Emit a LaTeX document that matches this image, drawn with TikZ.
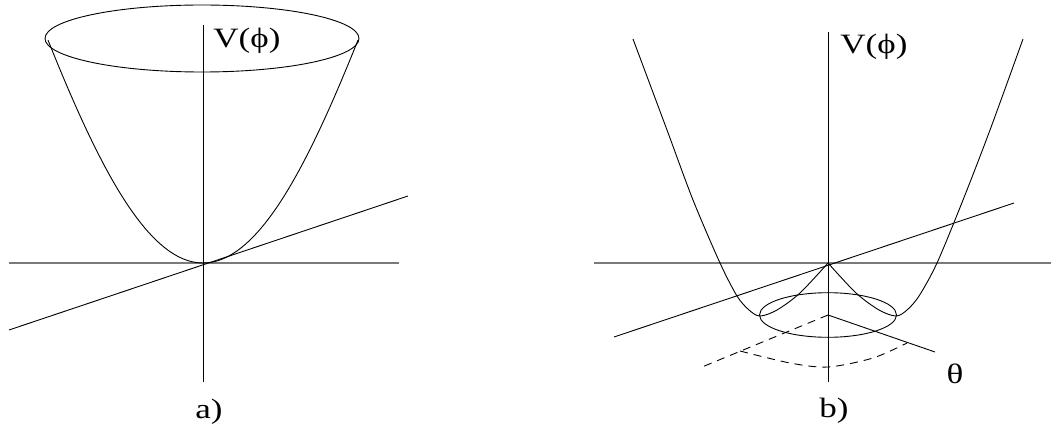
\documentclass[tikz,border=0pt]{standalone}
\usepackage{fontspec}
\setmainfont[FakeStretch=1.25]{Liberation Serif}
\usepackage{tikz}
\usetikzlibrary{positioning,calc}
\definecolor{axisgray}{HTML}{7A7A7A}

\begin{document}
\begin{tikzpicture}[x=1pt, y=-1pt, line width=0.9pt,
    every node/.style={font=\fontsize{28}{30}\selectfont, inner sep=0pt},
    haxis/.style={draw=axisgray, line width=1.4pt},
    vaxis/.style={draw=black, line width=1pt},
    curve/.style={draw=black, line width=0.9pt},
    dashcurve/.style={draw=black, line width=0.9pt, dash pattern=on 8pt off 6pt}]
  \useasboundingbox (0,0) rectangle (1051,427);

  % a) single well
  \coordinate (Oa) at (203,263);
  \coordinate (aL) at (9,263);   \coordinate (aR) at (399,263);
  \coordinate (aT) at (203,25);  \coordinate (aB) at (203,382);
  \coordinate (aS1) at (9,330);  \coordinate (aS2) at (408,196);
  \draw[haxis] (aL) -- (aR);
  \draw[vaxis] (aT) -- (aB);
  \draw[curve] (aS1) -- (aS2);
  \draw[curve] plot[domain=-1.55:1.55, samples=81]
    ({203+100*\x}, {263-105.1*\x*\x+5.13*\x*\x*\x*\x});
  \draw[curve] (202,38.5) ellipse [x radius=157, y radius=33.5];
  \node[anchor=west] (Va) at (213,41) {V(ϕ)};
  \node (la) at (209,412) {a)};

  % b) mexican hat
  \coordinate (Ob) at (828,263);
  \coordinate (bL) at (594,263);  \coordinate (bR) at (1051,263);
  \coordinate (bT) at (828,32);   \coordinate (bB) at (828,382);
  \coordinate (bS1) at (614,337); \coordinate (bS2) at (1014,203);
  \coordinate (Cb) at (828,315);
  \draw[haxis] (bL) -- (bR);
  \draw[vaxis] (bT) -- (bB);
  \draw[curve] (bS1) -- (bS2);
  \draw[curve] plot[smooth] coordinates {(828,263) (856,293) (879,310)
    (896,316) (907,310) (919,296) (937,263) (963,200) (990,130) (1023,39)};
  \draw[curve] plot[smooth] coordinates {(828,263) (800,293) (777,310)
    (760,316) (749,310) (737,296) (720,263) (693,200) (667,130) (633,39)};
  \draw[curve] (Cb) ellipse [x radius=68.5, y radius=22.3];
  \coordinate (th1) at (935,352);
  \coordinate (th2) at (702,367);
  \draw[curve] (Cb) -- (th1);
  \draw[dashcurve] (Cb) -- (th2);
  \draw[dashcurve] plot[smooth] coordinates {(740,351) (790,363) (828,367)
    (873,358) (907,343)};
  \node[anchor=west] (Vb) at (840,47) {V(ϕ)};
  \node (theta) at (955,374) {θ};
  \node (lb) at (834,411) {b)};
\end{tikzpicture}
\end{document}
